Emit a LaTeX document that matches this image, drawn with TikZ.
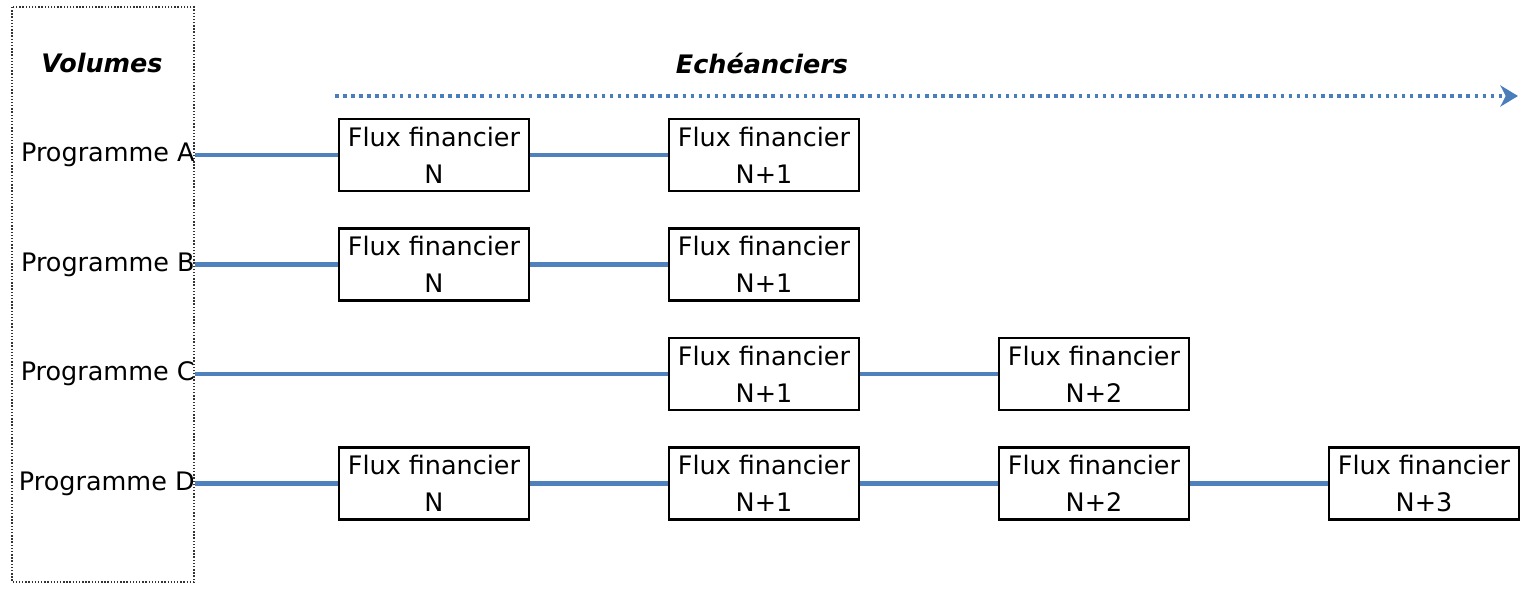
\documentclass[tikz,border=0pt]{standalone}
\usepackage{fontspec}
\setmainfont{DejaVu Sans}
\usetikzlibrary{arrows.meta}
\definecolor{lineblue}{RGB}{79,129,189}
\definecolor{arrowblue}{RGB}{74,126,187}
\begin{document}
\begin{tikzpicture}[x=0.02cm, y=-0.02cm,
		every node/.style={font=\fontsize{14.5}{21}\selectfont},
		fluxbox/.style={draw, line width=1.4pt, minimum width=3.8cm, minimum height=1.44cm, align=center, inner sep=0pt},
		proglabel/.style={anchor=east, inner sep=0pt},
		titlelabel/.style={font=\fontsize{14.5}{21}\selectfont\bfseries\itshape},
		fluxline/.style={draw=lineblue, line width=2.5pt}]
			\useasboundingbox (0,0) rectangle (1525,592);
			\newcommand{\programme}[2]{
				% draws a programme label at the left
				% args:
				%     rank (top to bottom)
				%     letter
				\node[proglabel] (prog_#2) at (195, 155 + #1*109.5) {Programme #2};
			}
			\newcommand{\fluxBox}[4]{
				% draws one box
				% args:
				%     row letter
				%     row rank
				%     column rank (ordered left to right)
				%     year text
				\node[fluxbox] (flux_#1_#3) at (434 + #3*330, 155 + #2*109.5) {Flux financier\\#4};
			}
			\newcommand{\fluxLink}[2]{
				% args:
				%     from node
				%     to node
				\draw[fluxline] (#1.east) -- (#2.west);
			}
			%
			% volumes frame
			\draw[densely dotted, line width=0.8pt, draw=black!80] (12,7) rectangle (194,582);
			\node[titlelabel] (vol_title) at (102,63) {Volumes};
			\node[titlelabel] (ech_title) at (762,63) {Echéanciers};
			% time axis
			\coordinate (time_start) at (335,96);
			\coordinate (time_end) at (1518,96);
			\draw[draw=arrowblue, line width=2.4pt, dash pattern=on 2pt off 2.6pt,
				-{Stealth[length=10pt, width=12pt, inset=3pt, fill=arrowblue]}] (time_start) -- (time_end);
			% programmes
			\programme{0}{A}
			\programme{1}{B}
			\programme{2}{C}
			\programme{3}{D}
			% boxes
			\fluxBox{A}{0}{0}{N}
			\fluxBox{A}{0}{1}{N+1}
			\fluxBox{B}{1}{0}{N}
			\fluxBox{B}{1}{1}{N+1}
			\fluxBox{C}{2}{1}{N+1}
			\fluxBox{C}{2}{2}{N+2}
			\fluxBox{D}{3}{0}{N}
			\fluxBox{D}{3}{1}{N+1}
			\fluxBox{D}{3}{2}{N+2}
			\fluxBox{D}{3}{3}{N+3}
			% links
			\fluxLink{prog_A}{flux_A_0}
			\fluxLink{flux_A_0}{flux_A_1}
			\fluxLink{prog_B}{flux_B_0}
			\fluxLink{flux_B_0}{flux_B_1}
			\fluxLink{prog_C}{flux_C_1}
			\fluxLink{flux_C_1}{flux_C_2}
			\fluxLink{prog_D}{flux_D_0}
			\fluxLink{flux_D_0}{flux_D_1}
			\fluxLink{flux_D_1}{flux_D_2}
			\fluxLink{flux_D_2}{flux_D_3}
		\end{tikzpicture}
\end{document}
